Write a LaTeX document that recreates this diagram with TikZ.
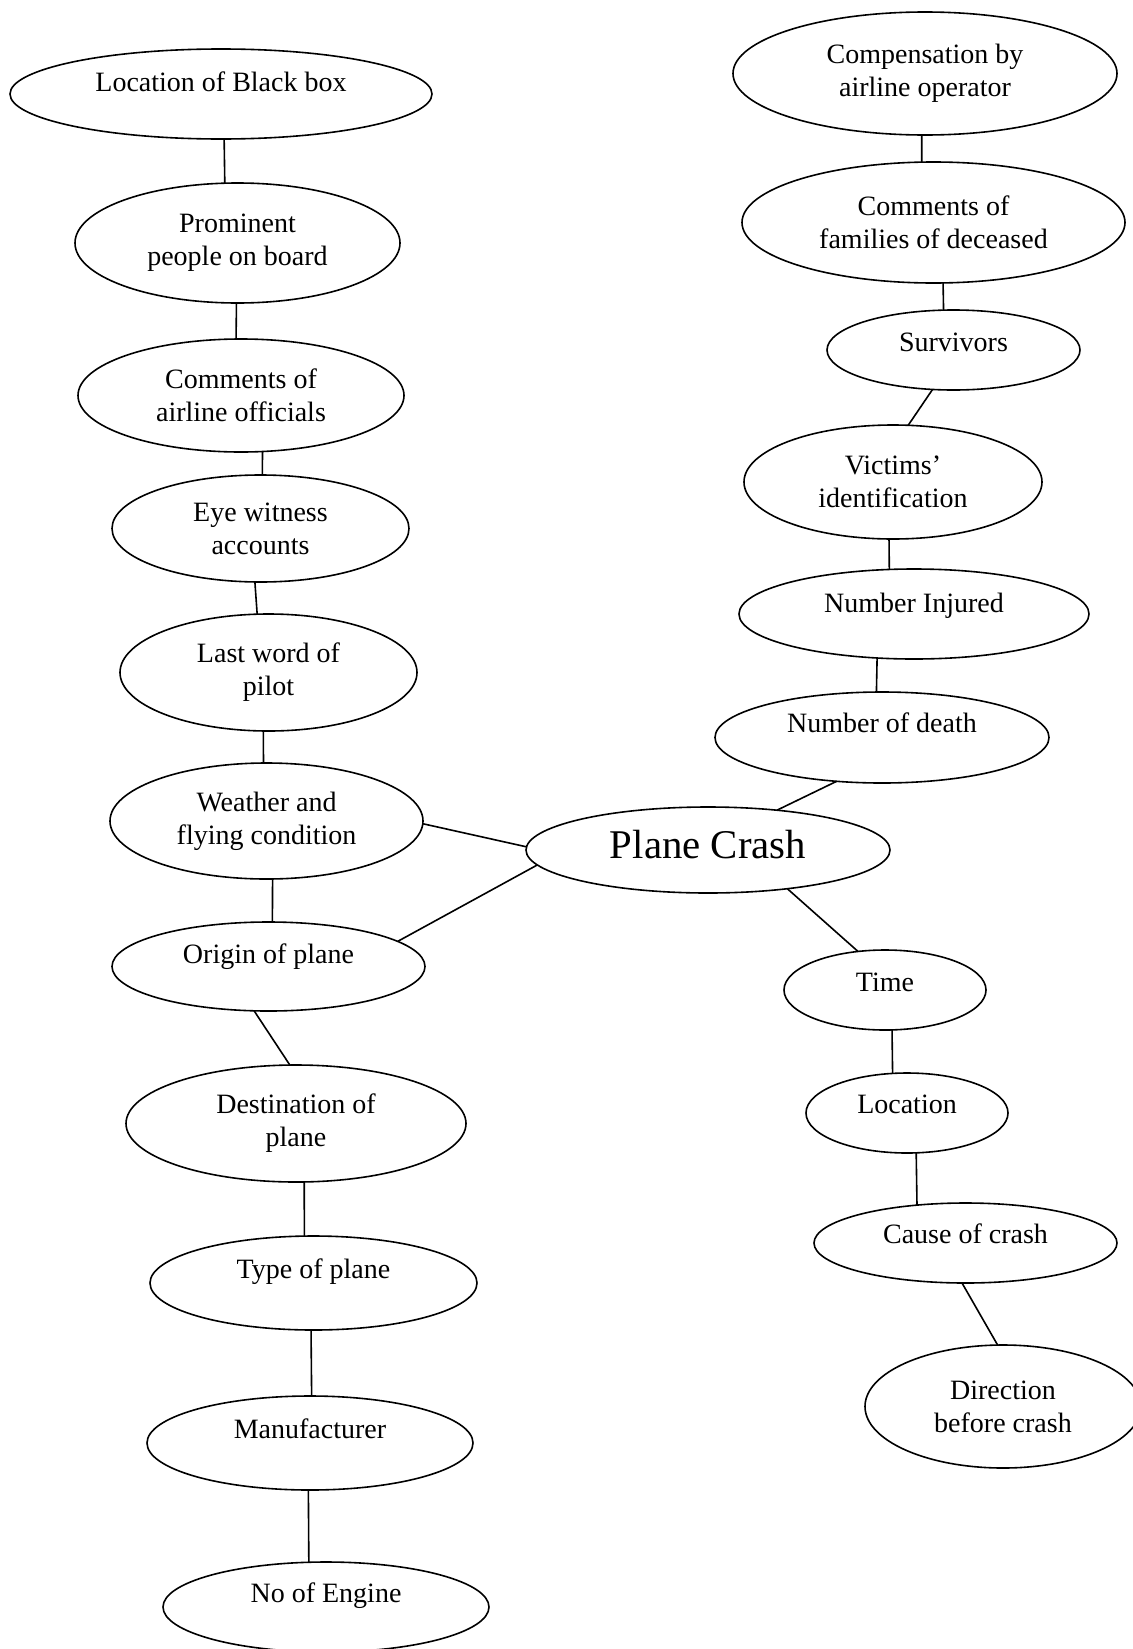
\documentclass[tikz,border=0pt]{standalone}
\usepackage{fontspec}
\setmainfont{Liberation Serif}
\usetikzlibrary{shapes.geometric}
\tikzset{
  bub/.style={draw, ellipse, line width=0.8pt, inner sep=0pt, outer sep=0pt,
    align=center, font=\fontsize{14}{16.5}\selectfont},
  sz/.style 2 args={minimum width=#1pt, minimum height=#2pt},
  one/.style={text height=9pt, text depth=#1},
  link/.style={line width=0.8pt},
}
\begin{document}
\begin{tikzpicture}[x=0.5pt, y=-0.5pt]
\useasboundingbox (0,0) rectangle (1133,1649);
\clip (0,0) rectangle (1133,1649);
% left column
\node[bub, sz={211}{45}, one=12pt] (bb) at (221,94) {Location of Black box};
\node[bub, sz={162.5}{60}] (pp) at (237.5,243) {Prominent\\people on board};
\node[bub, sz={163}{56.5}] (ca) at (241,395.5) {Comments of\\airline officials};
\node[bub, sz={148.5}{53.5}] (ew) at (260.5,528.5) {Eye witness\\accounts};
\node[bub, sz={148.5}{58.5}] (lw) at (268.5,672.5) {Last word of\\pilot};
\node[bub, sz={156.5}{58}] (wf) at (266.5,821) {Weather and\\flying condition};
\node[bub, sz={156.5}{44.5}, one=12.5pt] (of) at (268.5,966.5) {Origin of plane};
\node[bub, sz={170}{58.5}] (dest) at (296,1123.5) {Destination of\\plane};
\node[bub, sz={163.5}{47}, one=14pt] (type) at (313.5,1283) {Type of plane};
\node[bub, sz={163}{47}, one=14pt] (man) at (310,1443) {Manufacturer};
\node[bub, sz={163}{45}, one=14pt] (noe) at (326,1607) {No of Engine};
% right column
\node[bub, sz={192}{61.5}] (comp) at (925,73.5) {Compensation by\\airline operator};
\node[bub, sz={191.5}{60.5}] (fam) at (933.5,222.5) {Comments of\\families of deceased};
\node[bub, sz={126.5}{40}, one=8pt] (surv) at (953.5,350) {Survivors};
\node[bub, sz={149}{57}] (vic) at (893,482) {Victims’\\identification};
\node[bub, sz={175}{45}, one=11pt] (ni) at (914,614) {Number Injured};
\node[bub, sz={167}{45.5}, one=14.5pt] (nd) at (882,737.5) {Number of death};
\node[bub, sz={182}{43}, font=\fontsize{20.4}{24}\selectfont, text height=12.7pt, text depth=4.7pt] (pc) at (708,850) {Plane Crash};
\node[bub, sz={101}{40}, one=8pt] (time) at (885,990) {Time};
\node[bub, sz={101}{40}, one=9pt] (loc) at (907,1113) {Location};
\node[bub, sz={151.5}{40}, one=9pt] (cause) at (965.5,1243) {Cause of crash};
\node[bub, sz={138}{61.5}] (dir) at (1003,1406.5) {Direction\\before crash};
% connectors
\draw[link] (bb.-86.2) -- (pp.102.7);
\draw[link] (pp.-91.4) -- (ca.95.1);
\draw[link] (ca.-69.4) -- (ew.88.4);
\draw[link] (ew.-96.9) -- (lw.101.1);
\draw[link] (lw.-95.4) -- (wf.93.5);
\draw[link] (wf.-84.6) -- (of.85.5);
\draw[link] (of.-108) -- (dest.96.2);
\draw[link] (dest.-82.2) -- (type.101.4);
\draw[link] (type.-93) -- (man.88.8);
\draw[link] (man.-92.4) -- (noe.111.9);
\draw[link] (comp.-93.7) -- (fam.101.7);
\draw[link] (fam.-81.1) -- (surv.104.7);
\draw[link] (surv.-118.6) -- (vic.75.2);
\draw[link] (vic.-94) -- (ni.119.3);
\draw[link] (ni.-130.9) -- (nd.97.5);
\draw[link] (nd.-136.8) -- (pc.30);
\draw[link] (wf.-1) -- (pc.179);
\draw[link] (of.11.3) -- (pc.-175);
\draw[link] (pc.-26.8) -- (time.125);
\draw[link] (time.-80.1) -- (loc.110.7);
\draw[link] (loc.-77.3) -- (cause.142.6);
\draw[link] (cause.-95) -- (dir.95.6);
\end{tikzpicture}
\end{document}
